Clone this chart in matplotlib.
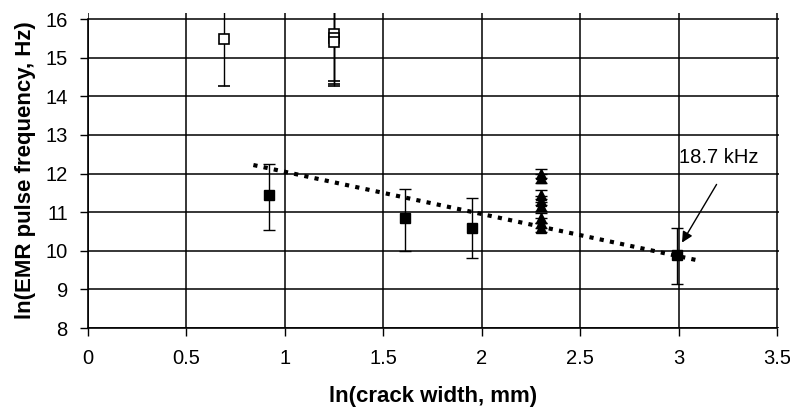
import matplotlib.pyplot as plt

plt.rcParams['font.family'] = ['Liberation Sans', 'DejaVu Sans']

# open squares (upper group)
hollow_x = [0.69, 1.25, 1.25, 1.25]
hollow_y = [15.48, 15.6, 15.5, 15.4]
hollow_err = [1.22, 1.21, 1.17, 1.14]

# filled squares
filled_x = [0.92, 1.61, 1.95, 2.99]
filled_y = [11.44, 10.84, 10.59, 9.89]
filled_lo = [0.91, 0.84, 0.78, 0.76]
filled_hi = [0.80, 0.76, 0.77, 0.70]

# filled triangles at ln(10)
tri_x = [2.30, 2.30, 2.30, 2.30, 2.30, 2.30, 2.30, 2.30]
tri_y = [12.0, 11.88, 11.45, 11.3, 11.15, 10.85, 10.72, 10.6]
tri_err = [0.12, 0.12, 0.12, 0.12, 0.12, 0.12, 0.12, 0.12]

# linear trend line end points
trend_x = [0.84, 3.09]
trend_y = [12.22, 9.76]

x_ticks = [0, 0.5, 1, 1.5, 2, 2.5, 3, 3.5]
y_ticks = [8, 9, 10, 11, 12, 13, 14, 15, 16]

fig = plt.figure(figsize=(7.9, 4.16), dpi=100)
ax = fig.add_axes([0.1114, 0.2115, 0.8747, 0.7567])

ax.errorbar(hollow_x, hollow_y, yerr=hollow_err, fmt='s', mfc='white', mec='black',
            mew=1.2, ms=7.5, ecolor='black', elinewidth=1, capsize=4.5, capthick=1, zorder=4)
ax.errorbar(filled_x, filled_y, yerr=[filled_lo, filled_hi], fmt='s', color='black',
            ms=6.5, ecolor='black', elinewidth=1, capsize=4.5, capthick=1, zorder=4)
ax.errorbar(tri_x, tri_y, yerr=tri_err, fmt='^', color='black',
            ms=7.5, ecolor='black', elinewidth=1, capsize=4, capthick=1, zorder=4)

ax.plot(trend_x, trend_y, color='black', lw=3, linestyle=(0, (1, 1.5)),
        dash_capstyle='butt', zorder=5)

ax.text(3.0, 12.42, '18.7 kHz', fontsize=14.5, ha='left', va='center', zorder=6)
ax.annotate('', xy=(3.01, 10.15), xytext=(3.20, 11.78),
            arrowprops=dict(arrowstyle='-|>', color='black', lw=1, mutation_scale=16),
            zorder=6)

ax.set_xlim(0, 3.51)
ax.set_ylim(8, 16.15)
ax.set_xticks(x_ticks)
ax.set_xticklabels([f'{t:g}' for t in x_ticks])
ax.set_yticks(y_ticks)
ax.grid(True, color='black', lw=1.1, zorder=1)
ax.set_axisbelow(True)

for side in ['top', 'right']:
    ax.spines[side].set_visible(False)
ax.spines['left'].set_bounds(8, 16)
ax.spines['bottom'].set_bounds(0, 3.5)
ax.spines['left'].set_linewidth(1.2)
ax.spines['bottom'].set_linewidth(1.2)

ax.tick_params(axis='y', direction='out', length=6, width=1, pad=8.5, labelsize=14.5)
ax.tick_params(axis='x', direction='out', length=6, width=1, pad=9, labelsize=14.5)

ax.set_xlabel('ln(crack width, mm)', fontsize=16, fontweight='bold')
ax.xaxis.set_label_coords(0.5, -0.185)
ax.set_ylabel('ln(EMR pulse frequency, Hz)', fontsize=16, fontweight='bold')
ax.yaxis.set_label_coords(-0.075, 0.5)

fig.savefig('out.png', dpi=100)
